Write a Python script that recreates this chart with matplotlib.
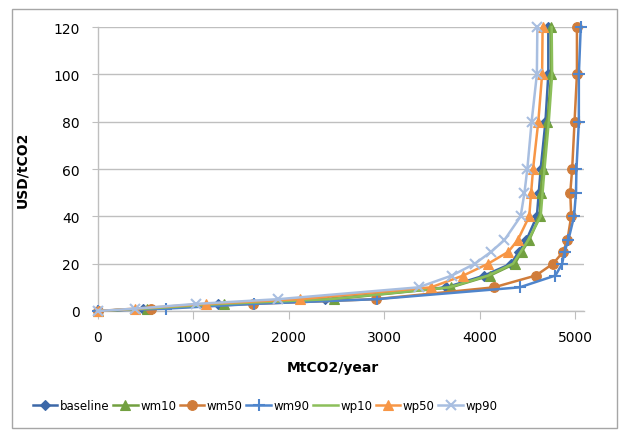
import numpy as np
import matplotlib
matplotlib.use("Agg")
import matplotlib.pyplot as plt
from matplotlib.patches import Rectangle

# carbon price levels (USD/tCO2)
price = [0, 1, 3, 5, 10, 15, 20, 25, 30, 40, 50, 60, 80, 100, 120]

# emissions (MtCO2/year) per scenario
baseline = [0, 470, 1260, 2380, 3650, 4050, 4330, 4410, 4490, 4600, 4620, 4640, 4690, 4720, 4720]
wm10 = [0, 510, 1320, 2470, 3700, 4110, 4370, 4440, 4520, 4630, 4640, 4660, 4710, 4750, 4745]
wm50 = [0, 555, 1620, 2910, 4150, 4590, 4770, 4875, 4920, 4960, 4950, 4970, 4995, 5020, 5020]
wm90 = [0, 710, 1640, 2920, 4420, 4795, 4865, 4890, 4930, 4990, 5010, 5015, 5040, 5040, 5060]
wp10 = [0, 490, 1300, 2430, 3680, 4090, 4350, 4430, 4510, 4640, 4660, 4680, 4725, 4760, 4755]
wp50 = [0, 390, 1130, 2115, 3490, 3830, 4090, 4300, 4400, 4520, 4540, 4560, 4615, 4655, 4660]
wp90 = [0, 390, 1030, 1890, 3360, 3710, 3950, 4120, 4260, 4430, 4470, 4500, 4545, 4600, 4605]

series = [
    ("baseline", baseline, "#3C68A8", "D", 5),
    ("wm10", wm10, "#72A040", "^", 7),
    ("wm50", wm50, "#D07C3A", "o", 7),
    ("wm90", wm90, "#4F85CC", "+", 8),
    ("wp10", wp10, "#8CBF5A", "", 0),
    ("wp50", wp50, "#F79646", "^", 7),
    ("wp90", wp90, "#A8BEE0", "x", 7),
]

plt.rcParams['font.family'] = ['DejaVu Sans']
fig = plt.figure(figsize=(6.23, 4.35), dpi=100)
ax = fig.add_axes([98 / 623, 1 - 312 / 435, 486 / 623, 284 / 435])

for name, xs, color, marker, ms in series:
    ax.plot(xs, price, color=color, linewidth=1.8, marker=marker if marker else None,
            markersize=ms, markeredgewidth=1.5 if marker in "+x" else 0.8,
            markeredgecolor=color, label=name, clip_on=False, zorder=3)

ax.set_xlim(0, 5094)
ax.set_ylim(0, 120)
ax.set_xticks([0, 1000, 2000, 3000, 4000, 5000])
ax.set_yticks(np.arange(0, 121, 20))
ax.yaxis.grid(True, color="#BFBFBF", linewidth=1)
ax.set_axisbelow(True)
for s in ["top", "right"]:
    ax.spines[s].set_visible(False)
for s in ["left", "bottom"]:
    ax.spines[s].set_color("#BFBFBF")
    ax.spines[s].set_linewidth(1)
ax.tick_params(axis="x", length=6, color="#BFBFBF", pad=8, labelsize=10)
ax.tick_params(axis="y", length=4, color="#BFBFBF", pad=9, labelsize=10)

fig.text(22 / 623, 1 - 170 / 435, "USD/tCO2", rotation=90, ha="center", va="center",
         fontsize=10, fontweight="bold")
fig.text(333 / 623, 1 - 368 / 435, "MtCO2/year", ha="center", va="center",
         fontsize=10, fontweight="bold")

handles, labels = ax.get_legend_handles_labels()
fig.legend(handles, labels, loc="center", bbox_to_anchor=(265 / 623, 1 - 407 / 435),
           ncol=7, frameon=False, fontsize=8.5, handlelength=2.1, handletextpad=0.2,
           columnspacing=0.3, borderpad=0)

# chart frame
fig.patches.append(Rectangle((12 / 623, 6 / 435), 605 / 623, 419 / 435,
                             transform=fig.transFigure, fill=False,
                             edgecolor="#A6A6A6", linewidth=1))

fig.savefig("out.png", dpi=100)
